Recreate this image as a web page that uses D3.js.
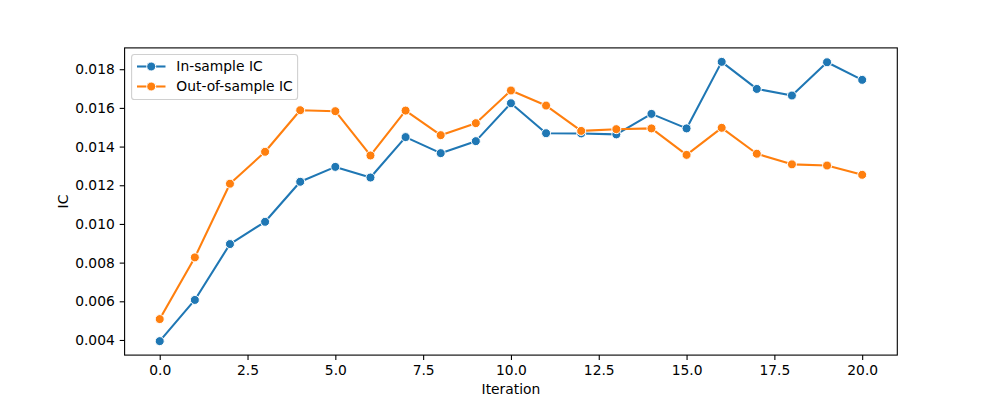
<!DOCTYPE html>
<html>
<head>
<meta charset="utf-8">
<script src="https://cdn.jsdelivr.net/npm/d3@7"></script>
<style>
  html, body { margin: 0; padding: 0; background: #fff; }
  svg { display: block; }
  text { font-family: "DejaVu Sans", sans-serif; fill: #000; }
</style>
</head>
<body>
<svg id="chart" width="997" height="399"></svg>
<script>
const iterations = [0,1,2,3,4,5,6,7,8,9,10,11,12,13,14,15,16,17,18,19,20];
const inSampleIC = [0.00394,0.00607,0.00896,0.01011,0.01218,0.01295,0.01240,0.01449,0.01366,0.01428,0.01624,0.01469,0.01468,0.01463,0.01569,0.01494,0.01838,0.01698,0.01664,0.01836,0.01745];
const outSampleIC = [0.00508,0.00827,0.01208,0.01373,0.01588,0.01583,0.01354,0.01586,0.01459,0.01521,0.01690,0.01612,0.01481,0.01490,0.01494,0.01357,0.01497,0.01363,0.01308,0.01302,0.01254];
const xTicks = [0,2.5,5,7.5,10,12.5,15,17.5,20];
const yTicks = [0.004,0.006,0.008,0.010,0.012,0.014,0.016,0.018];
const seriesNames = ["In-sample IC","Out-of-sample IC"];
const seriesColors = ["#1f77b4","#ff7f0e"];

const W = 997, H = 399;
const mLeft = 124.6, mRight = 897.3, mTop = 47.9, mBottom = 355.1;
const svg = d3.select("#chart");

const xMin = d3.min(iterations), xMax = d3.max(iterations);
const xPad = (xMax - xMin) * 0.05;
const allY = inSampleIC.concat(outSampleIC);
const yMin = d3.min(allY), yMax = d3.max(allY);
const yPad = (yMax - yMin) * 0.05;

const x = d3.scaleLinear().domain([xMin - xPad, xMax + xPad]).range([mLeft, mRight]);
const y = d3.scaleLinear().domain([yMin - yPad, yMax + yPad]).range([mBottom, mTop]);

const fs = 13.85;

// Axes
const xAxis = d3.axisBottom(x).tickValues(xTicks).tickFormat(d3.format(".1f")).tickSize(4.9).tickPadding(4.9);
const gx = svg.append("g").attr("transform", `translate(0,${mBottom})`).call(xAxis);
const yAxis = d3.axisLeft(y).tickValues(yTicks).tickFormat(d3.format(".3f")).tickSize(4.9).tickPadding(4.9);
const gy = svg.append("g").attr("transform", `translate(${mLeft},0)`).call(yAxis);
[gx, gy].forEach(g => {
  g.select(".domain").remove();
  g.selectAll(".tick line").attr("stroke", "#000").attr("stroke-width", 1.1);
  g.selectAll(".tick text").style("font-size", fs + "px").style("font-family", "DejaVu Sans");
});

// Series
const series = [inSampleIC, outSampleIC];
series.forEach((vals, si) => {
  const data = iterations.map((it, i) => [it, vals[i]]);
  svg.append("path")
    .datum(data)
    .attr("fill", "none")
    .attr("stroke", seriesColors[si])
    .attr("stroke-width", 2.08)
    .attr("stroke-linejoin", "round")
    .attr("stroke-linecap", "square")
    .attr("d", d3.line().x(d => x(d[0])).y(d => y(d[1])));
  svg.append("g").selectAll("circle").data(data).join("circle")
    .attr("cx", d => x(d[0]))
    .attr("cy", d => y(d[1]))
    .attr("r", 4.5)
    .attr("fill", seriesColors[si])
    .attr("stroke", "#fff")
    .attr("stroke-width", 1);
});

// Spines
svg.append("rect")
  .attr("x", mLeft).attr("y", mTop)
  .attr("width", mRight - mLeft).attr("height", mBottom - mTop)
  .attr("fill", "none").attr("stroke", "#000").attr("stroke-width", 1.1);

// Axis labels
svg.append("text")
  .attr("x", (mLeft + mRight) / 2).attr("y", 394)
  .attr("text-anchor", "middle")
  .style("font-size", fs + "px")
  .text("Iteration");
svg.append("text")
  .attr("transform", `translate(68,${(mTop + mBottom) / 2}) rotate(-90)`)
  .attr("text-anchor", "middle")
  .style("font-size", fs + "px")
  .text("IC");

// Legend
const lg = svg.append("g");
lg.append("rect")
  .attr("x", 131.6).attr("y", 54.5)
  .attr("width", 166).attr("height", 45)
  .attr("rx", 2.8)
  .attr("fill", "#fff").attr("fill-opacity", 0.8)
  .attr("stroke", "#d0d0d0").attr("stroke-width", 1.1);
seriesNames.forEach((name, i) => {
  const cy = 66.5 + i * 20;
  lg.append("line")
    .attr("x1", 137).attr("x2", 165.5)
    .attr("y1", cy).attr("y2", cy)
    .attr("stroke", seriesColors[i]).attr("stroke-width", 2.08);
  lg.append("circle")
    .attr("cx", 151.2).attr("cy", cy).attr("r", 4.5)
    .attr("fill", seriesColors[i]).attr("stroke", "#fff").attr("stroke-width", 1);
  lg.append("text")
    .attr("x", 176.3).attr("y", cy)
    .attr("dy", "0.36em")
    .style("font-size", fs + "px")
    .text(name);
});
</script>
</body>
</html>
